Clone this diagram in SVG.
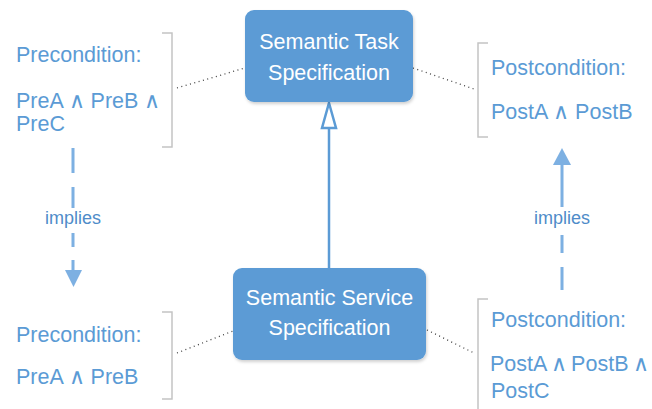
<svg xmlns="http://www.w3.org/2000/svg" width="652" height="409" viewBox="0 0 652 409">
<style>
.box{fill:#5b9bd5;}
.bt{font-family:"Liberation Sans",Arial,sans-serif;font-size:21.5px;fill:#ffffff;text-anchor:middle;}
.ct{font-family:"Liberation Sans",Arial,sans-serif;font-size:21.5px;fill:#5b9bd5;}
.imp{font-family:"Liberation Sans",Arial,sans-serif;font-size:18px;fill:#4f8cc9;text-anchor:middle;}
.br{fill:none;stroke:#c4c4c4;stroke-width:1.5;}
.dot{fill:none;stroke:#404040;stroke-width:1.3;stroke-dasharray:1 3.5;}
.dash{fill:none;stroke:#7db0e2;stroke-width:3;}
.head{fill:#7db0e2;}
</style>
<defs>
<filter id="sh" x="-10%" y="-10%" width="130%" height="130%">
<feDropShadow dx="1" dy="2" stdDeviation="1.5" flood-color="#000" flood-opacity="0.18"/>
</filter>
</defs>
<g id="connectors">
<line x1="329" y1="268" x2="329" y2="128" stroke="#5b9bd5" stroke-width="2.5"/>
<polygon points="329,103 336,128 322,128" fill="#ffffff" stroke="#5b9bd5" stroke-width="2.5" stroke-linejoin="miter"/>
<line class="dot" x1="177" y1="88" x2="245" y2="68"/>
<line class="dot" x1="413" y1="68" x2="474" y2="89"/>
<line class="dot" x1="177" y1="353" x2="233" y2="331"/>
<line class="dot" x1="427" y1="330" x2="474" y2="353"/>
<g id="implies-left">
<path class="dash" d="M73 148 V173 M73 187 V208 M73 233 V247 M73 260 V273"/>
<polygon class="head" points="65,270 82,270 73.5,287"/>
<text class="imp" x="73" y="224">implies</text>
</g>
<g id="implies-right">
<path class="dash" d="M562 162 V207 M562 235 V253 M562 267 V290"/>
<polygon class="head" points="553,165 571,165 562,148"/>
<text class="imp" x="562" y="224">implies</text>
</g>
</g>
<g id="task">
<rect class="box" x="245" y="10" width="168" height="92" rx="9" filter="url(#sh)"/>
<text class="bt" x="329" y="49">Semantic Task</text>
<text class="bt" x="329" y="80">Specification</text>
</g>
<g id="service">
<rect class="box" x="233" y="268" width="193" height="92" rx="9" filter="url(#sh)"/>
<text class="bt" x="329.5" y="305">Semantic Service</text>
<text class="bt" x="329.5" y="335">Specification</text>
</g>
<g id="pre-task">
<path class="br" d="M162 33 H172 V147 H162"/>
<text class="ct" x="16" y="62">Precondition:</text>
<text class="ct" x="16" y="108">PreA ∧ PreB ∧</text>
<text class="ct" x="16" y="131">PreC</text>
</g>
<g id="post-task">
<path class="br" d="M488 43 H478 V137 H488"/>
<text class="ct" x="491" y="75">Postcondition:</text>
<text class="ct" x="491" y="119">PostA ∧ PostB</text>
</g>
<g id="pre-service">
<path class="br" d="M162 312 H172 V399 H162"/>
<text class="ct" x="16" y="342">Precondition:</text>
<text class="ct" x="16" y="384">PreA ∧ PreB</text>
</g>
<g id="post-service">
<path class="br" d="M488 299 H478 V412"/>
<text class="ct" x="491" y="327">Postcondition:</text>
<text class="ct" x="490" y="371" word-spacing="-1.5">PostA ∧ PostB ∧</text>
<text class="ct" x="491" y="398">PostC</text>
</g>
</svg>
